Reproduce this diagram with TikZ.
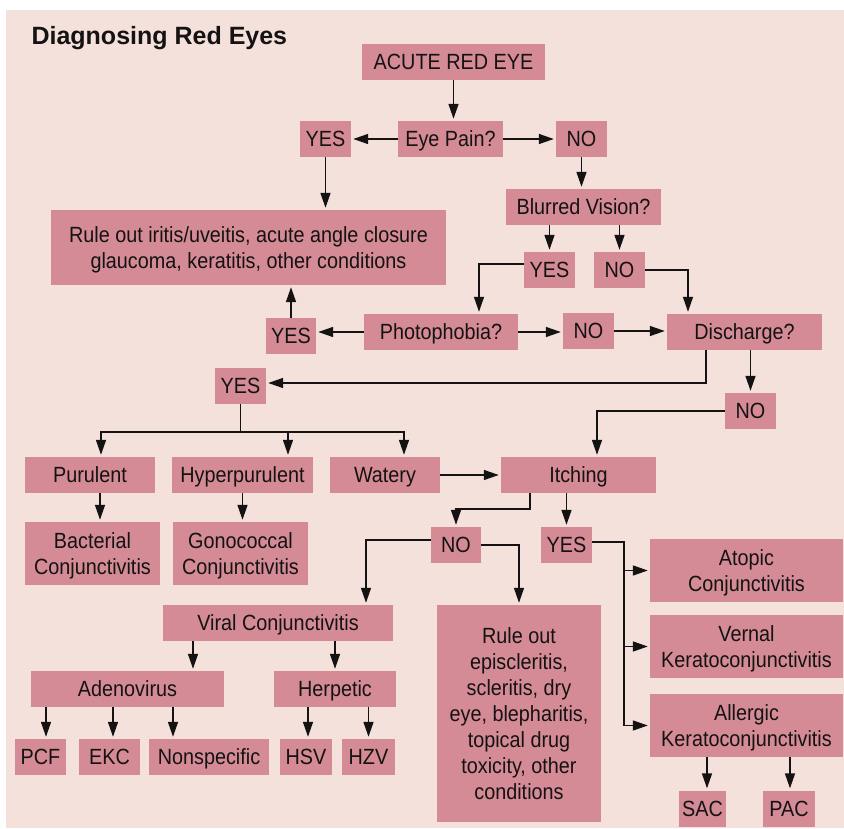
\documentclass[tikz,border=0pt]{standalone}
\usepackage{fontspec}
\setmainfont{Liberation Sans}
\newfontfamily\boxfont{Liberation Sans}[FakeStretch=0.9]
\usetikzlibrary{arrows.meta}

\definecolor{panel}{RGB}{245,225,219}
\definecolor{boxpink}{RGB}{212,139,150}
\definecolor{ink}{RGB}{20,18,18}

\begin{document}
\begin{tikzpicture}[x=1pt,y=-1pt,
  box/.style={fill=boxpink,inner sep=0pt,align=center,text=ink,
    font=\boxfont\fontsize{22}{26}\selectfont},
  one/.style={box,minimum height=36pt,text height=15.7pt,text depth=0pt},
  two/.style={box,minimum height=63pt,text height=41.7pt,text depth=0pt},
  link/.style={line width=1.5pt,draw=ink},
  arr/.style={link,-{Triangle[length=15pt,width=10pt]},shorten >=2pt}]
\useasboundingbox (0,0) rectangle (844,829);
\fill[white] (0,0) rectangle (844,829);
\fill[panel] (6,10) rectangle (844,828);
\node[anchor=base west,text=ink,font=\fontsize{25}{30}\selectfont\bfseries]
  (title) at (28,44.5) {Diagnosing Red Eyes};

% boxes
\node[one,minimum width=183pt] (acute) at (453.5,62) {ACUTE RED EYE};
\node[one,minimum width=105pt] (pain) at (450.5,139) {Eye Pain?};
\node[one,minimum width=51pt] (painyes) at (325.5,139) {YES};
\node[one,minimum width=51pt] (painno) at (581.5,139) {NO};
\node[one,minimum width=155pt] (blurred) at (583.5,207) {Blurred Vision?};
\node[two,minimum width=395pt,minimum height=75pt] (iritis) at (248.5,247.5)
  {Rule out iritis/uveitis, acute angle closure\\glaucoma, keratitis, other conditions};
\node[one,minimum width=51pt] (blurredyes) at (549.5,270) {YES};
\node[one,minimum width=51pt] (blurredno) at (619.5,270) {NO};
\node[one,minimum width=154pt] (photo) at (441,332) {Photophobia?};
\node[one,minimum width=50pt] (photoyes) at (291,336) {YES};
\node[one,minimum width=51pt] (photono) at (588.5,331) {NO};
\node[one,minimum width=155pt] (discharge) at (744.5,332) {Discharge?};
\node[one,minimum width=51pt] (dischyes) at (240.5,386) {YES};
\node[one,minimum width=51pt] (dischno) at (750.5,411) {NO};
\node[one,minimum width=130pt] (purulent) at (90,475) {Purulent};
\node[one,minimum width=141pt] (hyper) at (242.5,475) {Hyperpurulent};
\node[one,minimum width=110pt] (watery) at (385,475) {Watery};
\node[one,minimum width=155pt] (itching) at (578.5,475) {Itching};
\node[two,minimum width=135pt] (bacterial) at (92.5,553.5) {Bacterial\\Conjunctivitis};
\node[two,minimum width=135pt] (gonococcal) at (240.5,553.5) {Gonococcal\\Conjunctivitis};
\node[one,minimum width=50pt] (itchno) at (456,545) {NO};
\node[one,minimum width=51pt] (itchyes) at (566.5,545) {YES};
\node[two,minimum width=193pt] (atopic) at (746.5,570.5) {Atopic\\Conjunctivitis};
\node[one,minimum width=230pt] (viral) at (278,623) {Viral Conjunctivitis};
\node[box,minimum width=164pt,minimum height=217pt] (other) at (519,713.5)
  {Rule out\\episcleritis,\\scleritis, dry\\eye, blepharitis,\\topical drug\\toxicity, other\\conditions};
\node[two,minimum width=193pt] (vernal) at (746.5,646.5) {Vernal\\Keratoconjunctivitis};
\node[one,minimum width=193pt] (adeno) at (127.5,689) {Adenovirus};
\node[one,minimum width=122pt] (herpetic) at (335,689) {Herpetic};
\node[two,minimum width=193pt] (allergic) at (746.5,725.5) {Allergic\\Keratoconjunctivitis};
\node[one,minimum width=51pt] (pcf) at (40.5,757) {PCF};
\node[one,minimum width=61pt] (ekc) at (109.5,757) {EKC};
\node[one,minimum width=120pt] (nonspec) at (209,757) {Nonspecific};
\node[one,minimum width=52pt] (hsv) at (306,757) {HSV};
\node[one,minimum width=53pt] (hzv) at (368.5,757) {HZV};
\node[one,minimum width=47pt] (sac) at (702.5,808.5) {SAC};
\node[one,minimum width=52pt] (pac) at (789,808.5) {PAC};

% eye pain, vision, photophobia
\draw[arr] (acute.south) -- (acute.south |- pain.north);
\draw[arr] (pain.west) -- (painyes.east);
\draw[arr] (pain.east) -- (painno.west);
\draw[arr] (painyes.south) -- (painyes.south |- iritis.north);
\draw[arr] (painno.south) -- (painno.south |- blurred.north);
\draw[arr] (blurredyes.north |- blurred.south) -- (blurredyes.north);
\draw[arr] (blurredno.north |- blurred.south) -- (blurredno.north);
\draw[arr] ([yshift=6pt]blurredyes.west) -| ([xshift=38pt]photo.north);
\draw[arr] (blurredno.east) -| ([xshift=-56.5pt]discharge.north);
\draw[arr] (photo.west) -- (photo.west -| photoyes.east);
\draw[arr] (photoyes.north) -- (photoyes.north |- iritis.south);
\draw[arr] (photo.east) -- (photo.east -| photono.west);
\draw[arr] (photono.east) -- (photono.east -| discharge.west);

% discharge
\draw[arr] ([xshift=-38.5pt]discharge.south) |- ([yshift=3pt]dischyes.east);
\draw[arr] (dischno.north |- discharge.south) -- (dischno.north);
\coordinate (split) at ([yshift=-28pt]dischyes.south);
\draw[link] (dischyes.south) -- (split);
\draw[arr] (split) -| ([xshift=11pt]purulent.north);
\draw[arr] (split) -| ([xshift=45.5pt]hyper.north);
\draw[arr] (split) -| ([xshift=19pt]watery.north);
\draw[arr] (dischno.west) -| ([xshift=18.5pt]itching.north);
\draw[arr] (watery.east) -- (itching.west);
\draw[arr] ([xshift=10pt]purulent.south) -- ([xshift=7.5pt]bacterial.north);
\draw[arr] (hyper.south) -- (hyper.south |- gonococcal.north);

% itching
\draw[arr] ([xshift=-48.5pt]itching.south) -- ++(0pt,-16pt) -| (itchno.north);
\draw[arr] (itchyes.north |- itching.south) -- (itchyes.north);
\draw[arr] ([yshift=5pt]itchno.west) -| ([xshift=88pt]viral.north);
\draw[arr] (itchno.east) -| (other.north);
\coordinate (bus) at ([xshift=-26pt]allergic.west);
\draw[link] ([yshift=3pt]itchyes.east) -| (bus);
\draw[arr] (bus |- atopic.west) -- (atopic.west);
\draw[arr] (bus |- vernal.west) -- (vernal.west);
\draw[arr] (bus) -- (allergic.west);

% viral and allergic
\draw[arr] ([xshift=-85pt]viral.south) -- ([xshift=65.5pt]adeno.north);
\draw[arr] (herpetic.north |- viral.south) -- (herpetic.north);
\draw[arr] ([xshift=-81.5pt]adeno.south) -- ([xshift=5.5pt]pcf.north);
\draw[arr] ([xshift=-14.5pt]adeno.south) -- ([xshift=3.5pt]ekc.north);
\draw[arr] ([xshift=45.5pt]adeno.south) -- ([xshift=-36pt]nonspec.north);
\draw[arr] ([xshift=-27pt]herpetic.south) -- ([xshift=2pt]hsv.north);
\draw[arr] ([xshift=33.5pt]herpetic.south) -- (hzv.north);
\draw[arr] ([xshift=-39.5pt]allergic.south) -- ([xshift=4.5pt]sac.north);
\draw[arr] ([xshift=43.5pt]allergic.south) -- ([xshift=1pt]pac.north);
\end{tikzpicture}
\end{document}
